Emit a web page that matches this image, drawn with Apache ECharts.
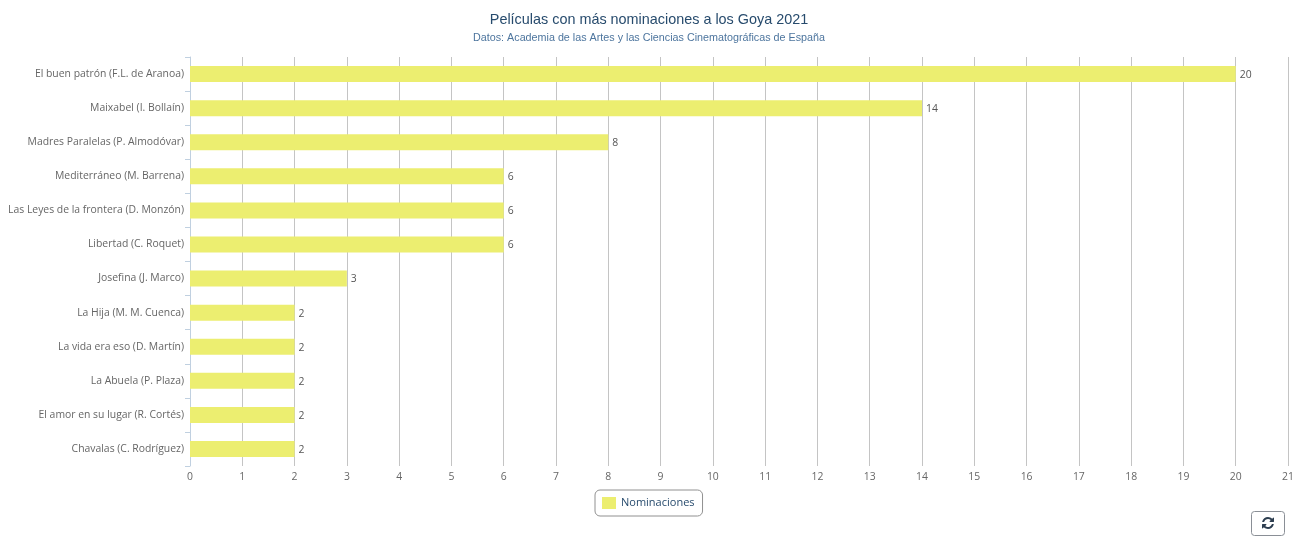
<!DOCTYPE html>
<html>
<head>
<meta charset="utf-8">
<title>Goya 2021</title>
<style>
  html, body { margin: 0; padding: 0; background: #fff; }
  #chart { width: 1310px; height: 549px; }
</style>
<script src="https://cdn.jsdelivr.net/npm/echarts@6/dist/echarts.min.js"></script>
</head>
<body>
<div id="chart"></div>
<script>
var titleText = 'Películas con más nominaciones a los Goya 2021'
var subtitleText = 'Datos: Academia de las Artes y las Ciencias Cinematográficas de España'
var seriesName = 'Nominaciones'
var categories = [
  'El buen patrón (F.L. de Aranoa)',
  'Maixabel (I. Bollaín)',
  'Madres Paralelas (P. Almodóvar)',
  'Mediterráneo (M. Barrena)',
  'Las Leyes de la frontera (D. Monzón)',
  'Libertad (C. Roquet)',
  'Josefina (J. Marco)',
  'La Hija (M. M. Cuenca)',
  'La vida era eso (D. Martín)',
  'La Abuela (P. Plaza)',
  'El amor en su lugar (R. Cortés)',
  'Chavalas (C. Rodríguez)'
]
var nominations = [20, 14, 8, 6, 6, 6, 3, 2, 2, 2, 2, 2]

var labelFont = '"Open Sans", sans-serif'
var headFont = '"Liberation Sans", Arial, sans-serif'
// icono de recargar
var refreshIcon = 'M1639 1056q0 5-1 7-64 268-268 434.5t-478 166.5q-146 0-282.5-55t-243.5-157l-129 129q-19 19-45 19t-45-19-19-45v-448q0-26 19-45t45-19h448q26 0 45 19t19 45-19 45l-137 137q71 66 161 102t187 36q134 0 250-65t186-179q11-17 53-117 8-23 30-23h192q13 0 22.5 9.5t9.5 22.5zm25-800v448q0 26-19 45t-45 19h-448q-26 0-45-19t-19-45 19-45l138-138q-148-137-349-137-134 0-250 65t-186 179q-11 17-53 117-8 23-30 23h-199q-13 0-22.5-9.5t-9.5-22.5v-7q65-268 270-434.5t480-166.5q146 0 284 55.5t245 156.5l130-129q19-19 45-19t45 19 19 45z'
echarts.graphic.registerShape('refreshIcon', echarts.graphic.extendPath(refreshIcon, {}))

var myChart = echarts.init(document.getElementById('chart'), null, { renderer: 'canvas' })

var iconScale = 12 / 1536

var option = {
  animation: false,
  title: {
    text: titleText,
    subtext: subtitleText,
    left: 644,
    textAlign: 'center',
    top: 8,
    padding: 5,
    itemGap: 6,
    textStyle: { fontFamily: headFont, fontSize: 14.4, fontWeight: 'normal', color: '#274b6d' },
    subtextStyle: { fontFamily: headFont, fontSize: 10.75, color: '#4d759e' }
  },
  grid: { left: 190, right: 22, top: 57, bottom: 83, containLabel: false },
  xAxis: {
    type: 'value',
    min: 0,
    max: 21,
    interval: 1,
    axisLine: { show: false },
    axisTick: { show: false },
    axisLabel: { fontFamily: labelFont, fontSize: 10.4, color: '#666', margin: 6, hideOverlap: false },
    splitLine: { show: true, lineStyle: { color: '#c4c4c4', width: 1 } }
  },
  yAxis: {
    type: 'category',
    data: categories,
    inverse: true,
    axisLine: { show: true, lineStyle: { color: '#c0d0e0', width: 1 } },
    axisTick: { show: true, length: 5, lineStyle: { color: '#c0d0e0' } },
    axisLabel: { fontFamily: labelFont, fontSize: 10.4, color: '#666', margin: 6, interval: 0 },
    splitLine: { show: false }
  },
  legend: {
    show: true,
    left: 595,
    top: 490,
    padding: [7, 8, 7, 7],
    itemWidth: 14,
    itemHeight: 12,
    itemGap: 5,
    icon: 'rect',
    borderColor: '#909090',
    borderWidth: 1,
    borderRadius: 5,
    textStyle: { fontFamily: labelFont, fontSize: 11, color: '#274b6d' }
  },
  series: [
    {
      name: seriesName,
      type: 'bar',
      data: nominations,
      barWidth: 16,
      itemStyle: { color: '#ecee70' },
      label: {
        show: true,
        position: 'right',
        distance: 4,
        offset: [0, 1],
        fontFamily: labelFont,
        fontSize: 10.4,
        color: '#555'
      }
    }
  ],
  graphic: [
    {
      type: 'rect',
      shape: { x: 1251.5, y: 511.5, width: 33, height: 24, r: 3 },
      style: { fill: '#fff', stroke: '#8a8f96', lineWidth: 1 }
    },
    {
      type: 'refreshIcon',
      x: 1262 - 128 * iconScale,
      y: 517 - 128 * iconScale,
      scaleX: iconScale,
      scaleY: iconScale,
      style: { fill: '#2d3e50' }
    }
  ]
}

myChart.setOption(option)
</script>
</body>
</html>
